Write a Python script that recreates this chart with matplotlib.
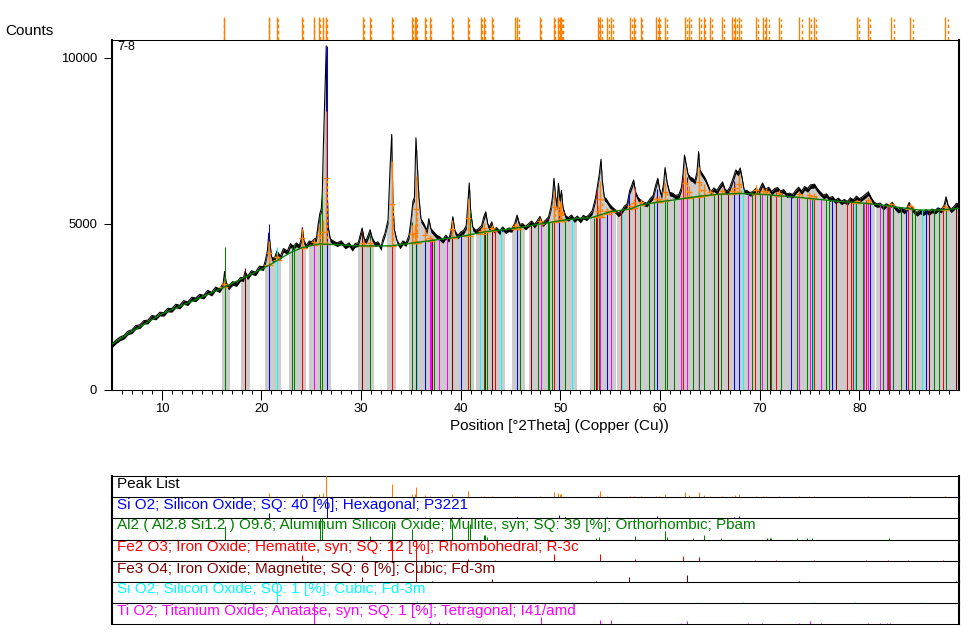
import matplotlib
matplotlib.use("Agg")
import matplotlib.pyplot as plt
from matplotlib.patches import Rectangle

plt.rcParams['font.family'] = ['Liberation Sans', 'DejaVu Sans']

W, H = 973, 641

# ===== measured pattern =====
profile_pos = [
    5.0, 5.4, 5.8, 6.2, 6.6, 7.0, 7.4, 7.8, 8.2, 8.6, 9.0, 9.4, 9.8, 10.2, 10.6, 11.0, 11.4, 11.8, 12.2, 12.6,
    13.0, 13.4, 13.8, 14.2, 14.6, 15.0, 15.4, 15.8, 16.0, 16.15, 16.3, 16.45, 16.7, 17.1, 17.5, 17.9, 18.2, 18.35, 18.6, 19.0,
    19.4, 19.8, 20.2, 20.4, 20.6, 20.73, 20.85, 21.0, 21.3, 21.55, 21.9, 22.2, 22.6, 22.9, 23.2, 23.5, 23.8, 24.0, 24.1, 24.25,
    24.5, 24.8, 25.0, 25.3, 25.5, 25.7, 25.85, 26.0, 26.1, 26.2, 26.39, 26.5, 26.6, 26.7, 26.9, 27.2, 27.6, 28.0, 28.4, 28.8,
    29.1, 29.4, 29.7, 29.9, 30.1, 30.3, 30.5, 30.7, 30.9, 31.1, 31.4, 31.7, 32.0, 32.2, 32.4, 32.7, 32.9, 33.07, 33.2, 33.35,
    33.6, 33.9, 34.2, 34.5, 34.8, 35.0, 35.2, 35.35, 35.5, 35.65, 35.8, 36.0, 36.3, 36.6, 36.8, 37.0, 37.3, 37.6, 37.9, 38.2,
    38.5, 38.8, 39.0, 39.2, 39.4, 39.7, 40.0, 40.3, 40.55, 40.7, 40.85, 41.0, 41.2, 41.5, 41.8, 42.1, 42.3, 42.5, 42.7, 42.9,
    43.1, 43.3, 43.6, 43.9, 44.2, 44.5, 44.8, 45.1, 45.4, 45.65, 45.9, 46.2, 46.5, 46.8, 47.1, 47.4, 47.7, 47.95, 48.2, 48.5,
    48.8, 49.05, 49.2, 49.35, 49.5, 49.65, 49.8, 49.95, 50.1, 50.25, 50.5, 50.8, 51.1, 51.4, 51.7, 52.0, 52.3, 52.6, 52.9, 53.2,
    53.5, 53.7, 53.9, 54.07, 54.2, 54.4, 54.6, 54.9, 55.2, 55.5, 55.8, 56.1, 56.4, 56.7, 56.95, 57.15, 57.34, 57.55, 57.8, 58.1,
    58.4, 58.7, 59.0, 59.3, 59.55, 59.77, 59.95, 60.15, 60.35, 60.5, 60.7, 60.95, 61.25, 61.55, 61.9, 62.15, 62.3, 62.45, 62.6, 62.8,
    63.05, 63.26, 63.5, 63.7, 63.87, 64.0, 64.25, 64.53, 64.8, 65.1, 65.4, 65.7, 66.0, 66.27, 66.5, 66.74, 67.0, 67.3, 67.6, 67.85,
    68.04, 68.25, 68.44, 68.7, 69.0, 69.28, 69.6, 69.9, 70.28, 70.6, 70.9, 71.2, 71.5, 71.8, 72.1, 72.4, 72.7, 73.0, 73.3, 73.6,
    73.9, 74.2, 74.5, 74.8, 75.1, 75.5, 75.8, 76.1, 76.4, 76.7, 77.0, 77.3, 77.6, 77.9, 78.2, 78.5, 78.8, 79.1, 79.4, 79.7,
    80.0, 80.3, 80.6, 80.9, 81.2, 81.5, 81.8, 82.1, 82.4, 82.7, 83.0, 83.3, 83.6, 83.9, 84.2, 84.5, 84.75, 85.0, 85.2, 85.5,
    85.8, 86.1, 86.4, 86.7, 87.0, 87.3, 87.6, 87.9, 88.2, 88.5, 88.7, 88.9, 89.2, 89.5, 89.75, 90.0,
]
profile_counts = [
    1370, 1490, 1580, 1630, 1760, 1800, 1930, 1950, 2080, 2090, 2230, 2210, 2330, 2320, 2450, 2440, 2570, 2540, 2680, 2640,
    2780, 2760, 2870, 2840, 2990, 2930, 3090, 3030, 3130, 3200, 3560, 3230, 3120, 3250, 3220, 3380, 3370, 3560, 3420, 3580,
    3540, 3720, 3700, 3900, 4200, 4720, 4450, 4000, 3950, 4180, 4020, 4250, 4180, 4400, 4320, 4420, 4340, 4560, 4880, 4500,
    4350, 4480, 4450, 4540, 4560, 5000, 5300, 5450, 5920, 7220, 9240, 10360, 6040, 4900, 4550, 4480, 4420, 4480, 4350, 4420,
    4280, 4400, 4420, 4650, 4870, 4550, 4500, 4650, 4820, 4580, 4420, 4450, 4300, 4560, 4720, 5110, 6670, 7690, 5510, 4800,
    4500, 4350, 4480, 4420, 4650, 5100, 5680, 5800, 7590, 6720, 5800, 5150, 5000, 4800, 5150, 4850, 4750, 4650, 4600, 4520,
    4650, 4550, 4750, 5210, 4800, 4650, 4750, 4800, 4950, 5600, 6230, 5350, 4900, 4800, 4850, 4950, 5200, 5360, 5000, 4900,
    5060, 4830, 4880, 4780, 4900, 4810, 4870, 4850, 5000, 5260, 4980, 5000, 4920, 5000, 5080, 4980, 5100, 5220, 5020, 5100,
    5200, 5500, 5800, 6370, 5850, 5520, 6220, 5700, 6000, 5500, 5250, 5180, 5260, 5150, 5230, 5130, 5250, 5200, 5280, 5400,
    5750, 6100, 6500, 6940, 6310, 5800, 5750, 5600, 5500, 5420, 5320, 5380, 5520, 5600, 6000, 6150, 6320, 5950, 5780, 5700,
    5640, 5620, 5750, 5850, 6150, 6370, 6050, 5850, 6200, 6690, 6250, 5950, 5920, 5850, 5880, 6100, 6500, 7070, 6820, 6500,
    6400, 6370, 6300, 6550, 7170, 6620, 6500, 6370, 6180, 5960, 6080, 6000, 6150, 6260, 6050, 5980, 6100, 6350, 6620, 6550,
    6680, 6350, 6010, 6000, 5940, 5960, 6060, 5980, 6230, 6030, 6100, 5970, 6060, 6090, 5980, 6030, 5900, 5920, 5880, 6000,
    6100, 5980, 6120, 6060, 6170, 6190, 6050, 5950, 5860, 5900, 5780, 5820, 5710, 5770, 5680, 5730, 5670, 5780, 5720, 5830,
    5750, 5810, 5880, 5960, 5780, 5640, 5600, 5620, 5520, 5600, 5560, 5640, 5520, 5430, 5480, 5410, 5470, 5640, 5520, 5400,
    5340, 5410, 5350, 5420, 5360, 5440, 5400, 5480, 5430, 5550, 5810, 5560, 5440, 5520, 5620, 5560,
]

# background curve
bg_pos = [5, 7, 10, 13.8, 16.3, 18.8, 20.8, 22.8, 24, 25.8, 30, 33, 35, 40, 42.5, 45, 48, 50, 52, 53, 55, 57, 58, 60, 62,
          64, 66, 68, 70, 72, 74, 76, 78, 80, 82, 84, 86, 88, 90]
bg_counts = [1370, 1750, 2280, 2760, 3090, 3450, 3750, 4110, 4270, 4390, 4330, 4330, 4410, 4610, 4760, 4840, 4990, 5090,
             5170, 5170, 5360, 5440, 5560, 5660, 5740, 5830, 5890, 5910, 5890, 5840, 5790, 5730, 5670, 5630, 5570, 5490,
             5410, 5410, 5460]

# grey bands under the fitted peaks (start, end)
band_start = [15.99, 17.99, 20.4, 21.2, 22.8, 24.8, 29.7, 30.5, 32.6, 34.8, 39.66, 41.57, 45.17, 46.87, 48.4, 53.0, 55.7,
              60.1, 64.9, 72.75, 81.7]
band_end = [16.79, 18.7, 21.1, 21.9, 24.4, 26.9, 30.4, 31.2, 33.4, 39.56, 41.27, 44.37, 46.37, 48.3, 51.6, 55.5, 60.03,
            64.8, 72.6, 81.5, 90.0]

# ===== fitted peak list (orange) =====
peak_pos = [16.22, 20.73, 21.57, 24.08, 25.25, 25.79, 26.15, 26.49, 30.2, 30.9, 33.07, 35.11, 35.41, 35.52, 36.42, 36.92,
            39.13, 40.73, 42.04, 42.37, 43.14, 45.48, 45.68, 47.95, 49.36, 49.76, 50.0, 50.1, 53.77, 54.0, 54.71, 55.08,
            56.98, 57.34, 58.04, 59.59, 59.85, 60.49, 62.5, 62.9, 63.9, 64.36, 65.06, 66.2, 67.2, 67.54, 67.91, 69.62,
            70.32, 70.68, 71.89, 73.99, 74.9, 75.4, 79.75, 80.85, 83.16, 85.07, 88.58]
peak_k2 = [16.26, 20.78, 21.62, 24.14, 25.31, 25.86, 26.22, 26.56, 30.28, 30.98, 33.16, 35.2, 35.5, 35.61, 36.51, 37.02,
           39.23, 40.84, 42.15, 42.48, 43.25, 45.6, 45.8, 48.08, 49.49, 49.89, 50.13, 50.24, 53.92, 54.15, 54.86, 55.23,
           57.14, 57.5, 58.2, 59.76, 60.02, 60.66, 62.68, 63.08, 64.08, 64.55, 65.25, 66.4, 67.4, 67.74, 68.11, 69.83,
           70.53, 70.9, 72.11, 74.22, 75.13, 75.64, 80.0, 81.11, 83.43, 85.35, 88.88]
peak_base = [3080, 3750, 3900, 4280, 4360, 4390, 4390, 4390, 4330, 4330, 4330, 4410, 4430, 4430, 4470, 4490, 4560, 4640,
             4700, 4740, 4770, 4830, 4840, 4990, 5060, 5080, 5090, 5090, 5190, 5200, 5300, 5350, 5440, 5480, 5560, 5650,
             5660, 5680, 5760, 5770, 5810, 5840, 5860, 5890, 5900, 5910, 5910, 5890, 5890, 5880, 5840, 5790, 5760, 5740,
             5630, 5620, 5540, 5450, 5420]
peak_net = [180, 730, 180, 550, 180, 550, 730, 4000, 180, 180, 2550, 550, 550, 2000, 360, 180,
            550, 1090, 180, 270, 180, 180, 180, 180, 910, 730, 550, 550, 360, 1090, 180, 90,
            180, 270, 180, 180, 180, 550, 910, 360, 910, 360, 180, 180, 180, 360, 550, 270,
            180, 180, 180, 180, 180, 180, 90, 180, 90, 180, 180]

# ===== reference phases =====
blue_pos = [20.73, 26.55, 36.38, 39.16, 39.99, 45.6, 49.82, 50.46, 54.67, 56.91, 59.65, 63.9, 67.38, 67.88, 73.19, 77.3,
            81.02, 83.39, 84.66, 86.73]
blue_top = [4990, 10350, 4560, 4800, 4650, 4920, 5500, 5150, 5400, 5900, 6050, 5950, 6300, 6400, 5850, 5700,
            5700, 5580, 5480, 5420]
blue_rel = [24, 100, 5, 5, 5, 5, 14, 5, 5, 0, 10, 0, 5, 10, 0, 0, 0, 0, 0, 0]

green_pos = [16.32, 23.04, 23.24, 25.85, 26.05, 30.86, 33.07, 35.08, 37.28, 39.08, 40.73, 40.93, 42.33, 42.47, 42.63, 45.98,
             47.72, 48.72, 48.86, 49.16, 50.5, 53.33, 53.53, 53.87, 57.48, 57.98, 58.85, 59.39, 60.45, 60.65, 61.35, 62.3,
             63.26, 64.37, 65.37, 66.07, 69.22, 69.98, 70.75, 71.08, 71.18, 72.15, 73.79, 74.79, 75.29, 76.17, 76.7, 77.0,
             79.7, 80.35, 82.42, 83.0, 83.39, 84.22, 85.33, 85.63, 87.54, 87.97, 88.74]
green_top = [4300, 4300, 4400, 5300, 5900, 4650, 6000, 5060, 4530, 5000, 5300, 5400, 4750, 4780, 4780, 4900,
             4980, 5050, 5050, 5080, 5130, 5170, 5190, 5220, 5480, 5530, 5610, 5640, 5900, 5680, 5720, 5760,
             5800, 5950, 5880, 5890, 5890, 5890, 5870, 5860, 5860, 5840, 5790, 5760, 5740, 5730, 5700, 5690,
             5640, 5620, 5560, 5540, 5520, 5460, 5410, 5410, 5410, 5430, 5440]
green_rel = [62, 0, 0, 100, 100, 14, 76, 48, 0, 71, 71, 71, 19, 19, 10, 0,
             0, 0, 0, 0, 0, 0, 5, 10, 14, 0, 0, 0, 38, 10, 0, 0,
             5, 19, 0, 5, 0, 0, 5, 5, 5, 0, 5, 5, 5, 0, 0, 0,
             0, 0, 0, 5, 0, 0, 0, 0, 0, 0, 0]

red_pos = [24.04, 33.07, 35.52, 37.02, 40.73, 43.4, 49.32, 53.63, 53.93, 56.08, 57.45, 62.3, 63.87, 65.84, 69.48, 71.68,
           75.4, 77.7, 78.8, 79.2, 79.4, 80.65, 82.9, 84.89, 88.4]
red_top = [4860, 6300, 5900, 4560, 4700, 4800, 5900, 6000, 6000, 5400, 6100, 6400, 6000, 5950, 5900, 5950,
           5750, 5670, 5650, 5650, 5650, 5700, 5550, 5500, 5430]
red_rel = [29, 100, 100, 0, 10, 5, 33, 0, 33, 0, 10, 24, 19, 0, 5, 5,
           5, 0, 0, 0, 0, 5, 5, 5, 5]

darkred_pos = [18.33, 30.06, 35.52, 37.08, 39.16, 42.47, 43.1, 47.08, 53.53, 56.91, 62.73, 65.84, 66.81, 71.08, 73.99, 77.7,
               87.03, 89.74]
darkred_top = [3650, 4800, 5500, 4530, 4800, 4780, 5000, 4950, 5200, 5500, 6400, 5900, 5950, 5850, 5790, 5680,
               5410, 5460]
darkred_rel = [5, 24, 100, 5, 0, 0, 14, 0, 5, 24, 33, 0, 0, 0, 5, 0, 0, 5]

cyan_pos = [21.53, 35.58, 41.9, 44.04, 51.16, 56.14, 63.77, 68.32, 75.39, 79.55, 86.33]
cyan_top = [4300, 4450, 4750, 4800, 5150, 5300, 5950, 6050, 5750, 5640, 5410]
cyan_rel = [100, 10, 5, 5, 5, 5, 5, 5, 5, 5, 5]

magenta_pos = [25.25, 36.88, 37.02, 37.78, 38.59, 48.02, 53.93, 55.07, 62.1, 62.73, 68.82, 70.28, 73.99, 75.09, 76.17, 80.5,
               80.82, 82.12, 82.76, 83.12]
magenta_top = [4450, 4580, 4580, 4560, 4560, 5010, 5400, 5400, 5780, 6100, 5900, 5890, 5800, 5800, 5730, 5620,
               5620, 5600, 5560, 5540]
magenta_rel = [100, 10, 0, 10, 5, 33, 19, 19, 5, 14, 5, 5, 5, 14, 5, 0, 5, 5, 5, 5]

row_labels = [
    "Si O2; Silicon Oxide; SQ: 40 [%]; Hexagonal; P3221",
    "Al2 ( Al2.8 Si1.2 ) O9.6; Aluminum Silicon Oxide; Mullite, syn; SQ: 39 [%]; Orthorhombic; Pbam",
    "Fe2 O3; Iron Oxide; Hematite, syn; SQ: 12 [%]; Rhombohedral; R-3c",
    "Fe3 O4; Iron Oxide; Magnetite; SQ: 6 [%]; Cubic; Fd-3m",
    "Si O2; Silicon Oxide; SQ: 1 [%]; Cubic; Fd-3m",
    "Ti O2; Titanium Oxide; Anatase, syn; SQ: 1 [%]; Tetragonal; I41/amd",
]
row_colors = ['#0000FF', '#008000', '#FF0000', '#800000', '#00FFFF', '#FF00FF']

phases = [
    (blue_pos, blue_top, blue_rel),
    (green_pos, green_top, green_rel),
    (red_pos, red_top, red_rel),
    (darkred_pos, darkred_top, darkred_rel),
    (cyan_pos, cyan_top, cyan_rel),
    (magenta_pos, magenta_top, magenta_rel),
]

ORANGE = '#FF8000'
GREY = '#CCCCCC'
LW = 0.75            # about 1 px at 100 dpi
ORANGE_LW = 1.0
BAND = 110           # height of the noisy black band, counts
FS = 10.95
TICK_FS = 9.4


def px_axes(fig, left, top, right, bottom):
    # axes rectangle given in image pixels
    return fig.add_axes([left / W, 1 - bottom / H, (right - left) / W, (bottom - top) / H])


def sticks(axis, pos, low, high, color, z, style='solid', lw=LW):
    # thin sticks, snapped to the pixel grid so they stay crisp
    coll = axis.vlines(pos, low, high, color=color, lw=lw, linestyles=style, zorder=z)
    coll.set_snap(True)
    return coll


fig = plt.figure(figsize=(W / 100, H / 100), dpi=100)

# ----- main pattern -----
ax = px_axes(fig, 112, 40, 959, 389.5)
ax.set_xlim(5, 90)
ax.set_ylim(0, 10537)

for start, end in zip(band_start, band_end):
    poly = ax.fill_between(profile_pos, 0, profile_counts, color=GREY, lw=0, zorder=1)
    poly.set_clip_path(Rectangle((start, 0), end - start, 11000, transform=ax.transData))

# counts are so noisy that the trace reads as a band
ax.fill_between(profile_pos, [c - BAND for c in profile_counts], profile_counts, color='black', lw=0, zorder=2)
ax.plot(profile_pos, profile_counts, color='black', lw=LW, zorder=2)

# phase order as drawn: later phases lie over earlier ones
for (pos, top, rel), col in zip(phases, row_colors):
    sticks(ax, pos, 0, top, col, 3)

peak_top = [b + n for b, n in zip(peak_base, peak_net)]
peak_mid = [b + n / 2 for b, n in zip(peak_base, peak_net)]
sticks(ax, peak_pos, peak_base, peak_top, ORANGE, 4, lw=ORANGE_LW)
sticks(ax, peak_k2, peak_base, peak_mid, ORANGE, 4, (0, (2, 2)), lw=ORANGE_LW)
bars = ax.hlines(peak_base, [p - 0.45 for p in peak_pos], [p + 0.45 for p in peak_pos],
                 color=ORANGE, lw=ORANGE_LW, zorder=4)
bars.set_snap(True)
bars = ax.hlines(peak_mid, [p - 0.3 for p in peak_pos], [p + 0.3 for p in peak_pos],
                 color=ORANGE, lw=ORANGE_LW, zorder=4)
bars.set_snap(True)

ax.plot(bg_pos, bg_counts, color='#008000', lw=LW * 1.3, zorder=5)

ax.set_xticks([10, 20, 30, 40, 50, 60, 70, 80])
ax.set_xticks(range(6, 90), minor=True)
ax.set_yticks([0, 5000, 10000])
ax.tick_params(axis='x', which='major', length=7.2, width=LW, labelsize=TICK_FS, pad=2.5)
ax.tick_params(axis='x', which='minor', length=2.9, width=LW)
ax.tick_params(axis='y', which='major', length=5.8, width=LW, labelsize=TICK_FS, pad=5)
ax.set_xlabel("Position [°2Theta] (Copper (Cu))", fontsize=FS, labelpad=3, x=0.528)
for side, lw in (('left', 1.5), ('right', 1.5), ('top', LW), ('bottom', LW)):
    ax.spines[side].set_linewidth(lw)
fig.text(117 / W, 1 - 47 / H, "7-8", fontsize=9, va='center', ha='left')
fig.text(5 / W, 1 - 31 / H, "Counts", fontsize=FS, va='center', ha='left')

# ----- peak position strip over the pattern -----
ax_top = px_axes(fig, 112, 17, 959, 40)
ax_top.set_xlim(5, 90)
ax_top.set_ylim(0, 1)
ax_top.axis('off')
sticks(ax_top, peak_pos, 0, 1, ORANGE, 2, lw=ORANGE_LW)
sticks(ax_top, peak_k2, 0, 0.9, ORANGE, 2, (0, (2.5, 2)), lw=ORANGE_LW)

# ----- peak list and phase rows -----
row_edges = [476, 497, 518, 539.5, 561, 582, 603, 624]
titles = ["Peak List"] + row_labels
colors = ['black'] + row_colors
for i in range(7):
    rax = px_axes(fig, 112, row_edges[i], 959, row_edges[i + 1])
    rax.set_xlim(5, 90)
    rax.set_xticks([])
    rax.set_yticks([])
    rax.patch.set_alpha(0)
    rax.text(117 / W, 1 - (row_edges[i] + 7.5) / H, titles[i], color=colors[i], fontsize=FS,
             transform=fig.transFigure, va='center', ha='left', zorder=1)
    if i == 0:
        rax.set_ylim(0, 4000)
        sticks(rax, peak_pos, 0, peak_net, ORANGE, 3)
    else:
        pos, top, rel = phases[i - 1]
        rax.set_ylim(0, 100)
        sticks(rax, pos, 0, rel, colors[i], 3)
    rax.spines['left'].set_linewidth(1.5)
    rax.spines['right'].set_linewidth(1.5)
    rax.spines['top'].set_linewidth(LW)
    rax.spines['bottom'].set_linewidth(LW)

fig.savefig("out.png", dpi=100)
